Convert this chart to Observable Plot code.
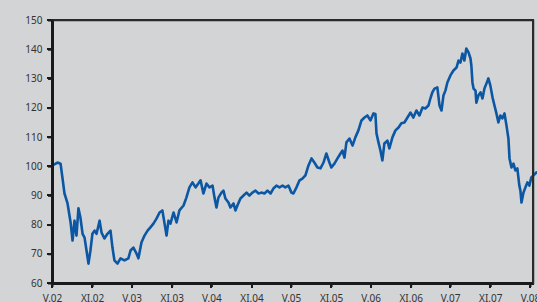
<!DOCTYPE html>
<html><head><meta charset="utf-8">
<script src="https://cdn.jsdelivr.net/npm/d3@7"></script>
<script src="https://cdn.jsdelivr.net/npm/@observablehq/plot@0.6"></script>
<style>
html,body{margin:0;padding:0;background:#d3d4d6;}
#wrap{position:relative;width:537px;height:302px;}
#chart svg{background:#d3d4d6;}
#box{position:absolute;box-sizing:border-box;border-left:3px solid #1a1a1a;border-bottom:3px solid #1a1a1a;border-top:2px solid #2a2a2a;border-right:2px solid #2a2a2a;pointer-events:none;}
.tk{position:absolute;background:#1a1a1a;pointer-events:none;}
</style></head><body><div id="wrap"><div id="chart"></div><div id="box"></div></div>
<script>
const dates = ["2002-05-01","2002-05-24","2002-06-07","2002-06-16","2002-06-25","2002-07-09","2002-07-23","2002-08-01","2002-08-10","2002-08-19","2002-08-28","2002-09-06","2002-09-16","2002-09-25","2002-10-04","2002-10-13","2002-10-22","2002-10-31","2002-11-10","2002-11-19","2002-12-03","2002-12-12","2002-12-25","2003-01-08","2003-01-22","2003-01-31","2003-02-09","2003-02-23","2003-03-09","2003-03-27","2003-04-14","2003-04-24","2003-05-07","2003-05-21","2003-05-30","2003-06-13","2003-06-27","2003-07-11","2003-07-24","2003-08-07","2003-08-21","2003-09-04","2003-09-17","2003-09-27","2003-10-06","2003-10-15","2003-10-24","2003-11-07","2003-11-21","2003-12-04","2003-12-23","2004-01-05","2004-01-19","2004-02-02","2004-02-16","2004-02-29","2004-03-10","2004-03-23","2004-04-06","2004-04-20","2004-05-04","2004-05-13","2004-05-22","2004-05-31","2004-06-14","2004-06-23","2004-07-02","2004-07-16","2004-07-25","2004-08-08","2004-08-17","2004-08-26","2004-09-09","2004-09-23","2004-10-07","2004-10-20","2004-11-03","2004-11-17","2004-12-01","2004-12-14","2004-12-28","2005-01-11","2005-01-25","2005-02-07","2005-02-21","2005-03-07","2005-03-21","2005-04-03","2005-04-17","2005-05-01","2005-05-10","2005-05-24","2005-06-07","2005-06-20","2005-07-04","2005-07-18","2005-08-01","2005-08-14","2005-08-28","2005-09-11","2005-09-25","2005-10-08","2005-10-22","2005-10-31","2005-11-14","2005-11-28","2005-12-12","2005-12-21","2005-12-30","2006-01-08","2006-01-22","2006-02-05","2006-02-18","2006-03-04","2006-03-18","2006-04-01","2006-04-14","2006-04-28","2006-05-12","2006-05-21","2006-05-26","2006-06-04","2006-06-13","2006-06-22","2006-07-01","2006-07-15","2006-07-24","2006-08-07","2006-08-21","2006-09-04","2006-09-17","2006-10-01","2006-10-15","2006-10-29","2006-11-11","2006-11-25","2006-12-09","2006-12-23","2007-01-05","2007-01-19","2007-01-28","2007-02-06","2007-02-16","2007-03-01","2007-03-11","2007-03-20","2007-03-29","2007-04-07","2007-04-16","2007-04-30","2007-05-14","2007-05-28","2007-06-06","2007-06-15","2007-06-24","2007-07-03","2007-07-12","2007-07-22","2007-07-31","2007-08-04","2007-08-09","2007-08-14","2007-08-23","2007-08-27","2007-09-05","2007-09-15","2007-09-24","2007-10-03","2007-10-12","2007-10-21","2007-10-30","2007-11-09","2007-11-18","2007-11-27","2007-12-06","2007-12-15","2007-12-24","2008-01-03","2008-01-12","2008-01-21","2008-01-26","2008-02-04","2008-02-13","2008-02-22","2008-03-02","2008-03-11","2008-03-16","2008-03-21","2008-03-30","2008-04-08","2008-04-17","2008-04-26","2008-05-05","2008-05-15","2008-05-28"];
const values = [100.4,101.4,101.0,96,90.8,87.4,80.9,74.7,81.5,76.4,85.7,82.6,77,75.7,71.3,66.8,71.3,77,78.1,77,81.5,77.4,75.4,77,78.1,72.3,67.9,66.8,68.6,67.9,68.6,71.3,72.3,70.3,68.6,74,76.4,78.1,79.2,80.5,82.2,84.3,85,80.5,76.4,81.5,80.5,84.3,80.9,85,86.7,89.4,92.9,94.6,92.9,94.2,95.3,90.8,94.2,92.9,93.5,89.4,86,89.4,91.1,91.8,89.1,87.7,86,87.4,85,86.7,89.1,90.1,91.1,90.1,91.1,91.8,90.8,91.1,90.8,91.8,90.8,92.5,93.5,92.9,93.5,92.9,93.5,91.1,90.8,92.9,95.3,95.9,97,100.4,102.8,101.4,99.7,99.4,101.4,104.5,101.4,99.7,101,102.8,104.5,105.5,103.1,108.3,109.6,107.2,110,112.4,115.8,116.8,117.5,115.8,118.2,118,111.3,108.3,105.5,102.1,107.9,108.9,106.2,110,112.4,113.4,114.8,115.1,116.8,118.5,116.8,119.2,117.5,120.2,119.9,120.9,123.3,125.4,126.7,127.1,120.9,119.2,124.3,126,128.8,131.2,132.9,133.9,136.3,135.6,138.7,136.3,140.4,139.1,137,134.6,128.8,126.7,126,121.9,124.3,125.4,123.3,126.7,128.4,130.2,127.8,123.7,120.9,118.2,115.1,117.5,116.5,118.2,114.1,109.6,102.8,99.7,101,98.7,99.4,93.5,91.8,87.7,91.1,92.9,94.6,93.5,96.3,97,98];
const tickDates = ["2002-05-01","2002-11-01","2003-05-01","2003-11-01","2004-05-01","2004-11-01","2005-05-01","2005-11-01","2006-05-01","2006-11-01","2007-05-01","2007-11-01","2008-05-01"];
const tickLabels = ["V.02","XI.02","V.03","XI.03","V.04","XI.04","V.05","XI.05","V.06","XI.06","V.07","XI.07","V.08"];
const yTicks = [60,70,80,90,100,110,120,130,140,150];

const data = dates.map((d,i)=>({date:new Date(d+"T00:00:00Z"), value:values[i]}));
const tDates = tickDates.map(d=>new Date(d+"T00:00:00Z"));
const labelOf = new Map(tDates.map((d,i)=>[+d, tickLabels[i]]));
const x0 = new Date("2002-05-01T00:00:00Z"), x1 = new Date("2008-05-15T00:00:00Z");
const yMin = 60, yMax = 150;

const chart = Plot.plot({
  width: 537, height: 302,
  marginLeft: 52, marginRight: 4, marginTop: 20, marginBottom: 19,
  fontFamily: "Liberation Sans, Arial, sans-serif",
  x: {type: "utc", domain: [x0, x1]},
  y: {domain: [yMin, yMax]},
  marks: [
    Plot.frame({stroke: "#2a2a2a", strokeWidth: 1.5}),
    Plot.axisY({ticks: yTicks, tickSize: 4, tickPadding: 6, label: null, stroke: "#1a1a1a", strokeWidth: 2, fill: "#333", fontSize: 10}),
    Plot.axisX({ticks: tDates, tickFormat: d => labelOf.get(+d), tickSize: 4, tickPadding: 7, label: null, stroke: "#1a1a1a", strokeWidth: 2, fill: "#333", fontSize: 10}),
    Plot.ruleX([x0], {stroke: "#1a1a1a", strokeWidth: 3}),
    Plot.ruleY([yMin], {stroke: "#1a1a1a", strokeWidth: 3}),
    Plot.line(data, {x: "date", y: "value", stroke: "#0b57a4", strokeWidth: 2.6, strokeLinejoin: "round"})
  ]
});
document.getElementById("chart").appendChild(chart);

// overlay frame and tick marks positioned with the chart's own scales
const sx = chart.scale("x"), sy = chart.scale("y");
const L = sx.apply(x0), R = sx.apply(x1), T = sy.apply(yMax), B = sy.apply(yMin);
const box = document.getElementById("box");
box.style.left = (L - 1.5) + "px"; box.style.top = (T - 1) + "px";
box.style.width = (R - L + 2.5) + "px"; box.style.height = (B - T + 2.5) + "px";
const wrap = document.getElementById("wrap");
yTicks.forEach(v => {
  const e = document.createElement("div"); e.className = "tk";
  e.style.left = (L - 5) + "px"; e.style.top = (sy.apply(v) - 1) + "px"; e.style.width = "4px"; e.style.height = "2px";
  wrap.appendChild(e);
});
tDates.forEach(d => {
  const e = document.createElement("div"); e.className = "tk";
  e.style.left = (sx.apply(d) - 1) + "px"; e.style.top = (B + 1) + "px"; e.style.width = "2px"; e.style.height = "4px";
  wrap.appendChild(e);
});
</script></body></html>
